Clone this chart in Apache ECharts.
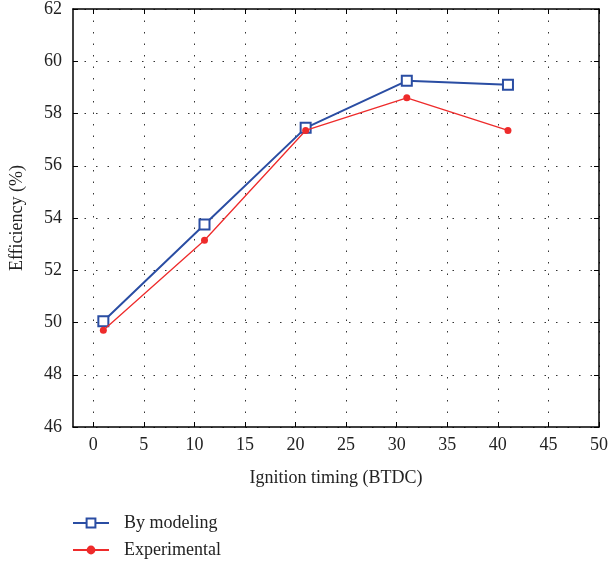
<!DOCTYPE html>
<html>
<head>
<meta charset="utf-8">
<script src="https://cdn.jsdelivr.net/npm/echarts@6/dist/echarts.min.js"></script>
<style>
  html, body { margin: 0; padding: 0; background: #fff; }
  #chart { width: 611px; height: 564px; }
</style>
</head>
<body>
<div id="chart"></div>
<script>
const xTicks = [0, 5, 10, 15, 20, 25, 30, 35, 40, 45, 50]
const timing = [1, 11, 21, 31, 41]
const modeling = [50.05, 53.75, 57.45, 59.25, 59.1]
const experimental = [49.7, 53.15, 57.35, 58.6, 57.35]
const seriesNames = ['By modeling', 'Experimental']

const FONT = "'Liberation Serif', 'DejaVu Serif', serif"
const BLUE = '#2a4da3'
const RED = '#ee2b2b'

const chart = echarts.init(document.getElementById('chart'), null, { renderer: 'canvas' })

const tickStyle = { show: true, inside: true, length: 5, lineStyle: { color: '#000', width: 1 } }
const gridLine = { show: true, lineStyle: { color: '#333', type: [1.5, 10], width: 1 } }

const legendRow = (name, top) => ({
  left: 72,
  top,
  padding: 0,
  itemWidth: 36,
  itemHeight: 11,
  textStyle: { fontFamily: FONT, fontSize: 18, color: '#222', padding: [0, 0, 0, 10] },
  data: [name],
})

const option = {
  animation: false,
  textStyle: { fontFamily: FONT },
  grid: { left: 73, right: 9, top: 8, bottom: 137 },
  legend: [legendRow(seriesNames[0], 514), legendRow(seriesNames[1], 541)],
  xAxis: [
    {
      type: 'value', min: -2, max: 50,
      axisLine: { show: true, onZero: false, lineStyle: { color: '#000', width: 1.5 } },
      axisTick: { ...tickStyle, customValues: xTicks },
      axisLabel: { customValues: xTicks, color: '#222', fontSize: 18, fontFamily: FONT, margin: 9 },
      splitLine: gridLine,
      name: 'Ignition timing (BTDC)', nameLocation: 'middle', nameGap: 42,
      nameTextStyle: { fontSize: 18, color: '#222', fontFamily: FONT },
    },
    {
      type: 'value', min: -2, max: 50, position: 'top',
      axisLine: { show: true, onZero: false, lineStyle: { color: '#000', width: 1.5 } },
      axisTick: { ...tickStyle, customValues: xTicks },
      axisLabel: { show: false },
      splitLine: { show: false },
    },
  ],
  yAxis: [
    {
      type: 'value', min: 46, max: 62, interval: 2,
      axisLine: { show: true, onZero: false, lineStyle: { color: '#000', width: 1.5 } },
      axisTick: tickStyle,
      axisLabel: { color: '#222', fontSize: 18, fontFamily: FONT, margin: 11 },
      splitLine: gridLine,
      name: 'Efficiency (%)', nameLocation: 'middle', nameGap: 47,
      nameTextStyle: { fontSize: 18, color: '#222', fontFamily: FONT },
    },
    {
      type: 'value', min: 46, max: 62, interval: 2, position: 'right',
      axisLine: { show: true, onZero: false, lineStyle: { color: '#000', width: 1.5 } },
      axisTick: tickStyle,
      axisLabel: { show: false },
      splitLine: { show: false },
    },
  ],
  series: [
    {
      name: seriesNames[0], type: 'line',
      data: timing.map((t, i) => [t, modeling[i]]),
      symbol: 'rect', symbolSize: 10,
      lineStyle: { color: BLUE, width: 2 },
      itemStyle: { color: '#fff', borderColor: BLUE, borderWidth: 2 },
      z: 3,
    },
    {
      name: seriesNames[1], type: 'line',
      data: timing.map((t, i) => [t, experimental[i]]),
      symbol: 'circle', symbolSize: 7,
      lineStyle: { color: RED, width: 1.3 },
      itemStyle: { color: RED },
      z: 4,
    },
  ],
}

chart.setOption(option)
</script>
</body>
</html>
